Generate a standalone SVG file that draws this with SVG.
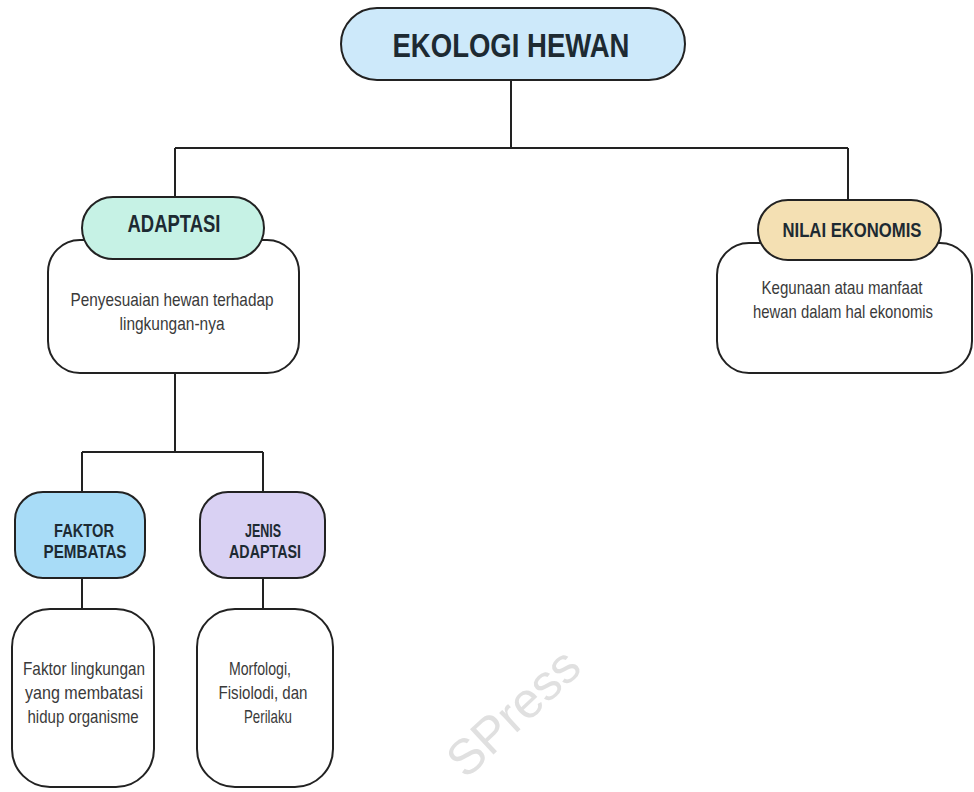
<svg xmlns="http://www.w3.org/2000/svg" width="974" height="792" viewBox="0 0 974 792">
  <style>
    .box { stroke: #222; stroke-width: 2; }
    .desc { fill: #ffffff; stroke: #222; stroke-width: 2; }
    .link { fill: none; stroke: #222; stroke-width: 2; }
    .title { font-family: "Liberation Sans", Arial, sans-serif; font-weight: bold; fill: #1d2a32; text-anchor: middle; }
    .body { font-family: "Liberation Sans", Arial, sans-serif; font-size: 19px; fill: #3a3a3a; text-anchor: middle; }
    .mark { font-family: "Liberation Sans", Arial, sans-serif; fill: #e0e0e0; }
  </style>
  <rect width="974" height="792" fill="#ffffff"/>

  <!-- connectors -->
  <g id="connectors">
    <path class="link" d="M511,80 V148 M175,148 H848 M175,148 V197 M848,148 V200"/>
    <path class="link" d="M175,373 V452 M82,452 H263 M82,452 V492 M263,452 V492"/>
    <path class="link" d="M82,578 V609 M263,578 V609"/>
  </g>

  <!-- root -->
  <g id="ekologi-hewan">
    <rect class="box" x="341" y="8" width="344" height="72" rx="36" fill="#cde9fa"/>
    <text class="title" x="511" y="57" font-size="33" textLength="237" lengthAdjust="spacingAndGlyphs">EKOLOGI HEWAN</text>
  </g>

  <!-- adaptation branch -->
  <g id="adaptasi">
    <rect class="desc" x="48" y="240" width="251" height="133" rx="32"/>
    <rect class="box" x="82" y="197" width="182" height="62" rx="31" fill="#c6f2e5"/>
    <text class="title" x="174" y="232" font-size="23" textLength="93" lengthAdjust="spacingAndGlyphs">ADAPTASI</text>
    <text class="body" x="172" y="306" textLength="203" lengthAdjust="spacingAndGlyphs">Penyesuaian hewan terhadap</text>
    <text class="body" x="172" y="330" textLength="105" lengthAdjust="spacingAndGlyphs">lingkungan-nya</text>
  </g>

  <!-- economic value branch -->
  <g id="nilai-ekonomis">
    <rect class="desc" x="717" y="243" width="255" height="130" rx="32"/>
    <rect class="box" x="758" y="200" width="183" height="60" rx="30" fill="#f4e0b3"/>
    <text class="title" x="852" y="237" font-size="21" textLength="139" lengthAdjust="spacingAndGlyphs">NILAI EKONOMIS</text>
    <text class="body" x="842" y="294" font-size="18" textLength="161" lengthAdjust="spacingAndGlyphs">Kegunaan atau manfaat</text>
    <text class="body" x="843" y="318" font-size="18" textLength="180" lengthAdjust="spacingAndGlyphs">hewan dalam hal ekonomis</text>
  </g>

  <!-- limiting factors -->
  <g id="faktor-pembatas">
    <rect class="box" x="15" y="492" width="130" height="86" rx="28" fill="#a8dcf7"/>
    <text class="title" x="84" y="537" font-size="19" textLength="60" lengthAdjust="spacingAndGlyphs">FAKTOR</text>
    <text class="title" x="85" y="558" font-size="19" textLength="83" lengthAdjust="spacingAndGlyphs">PEMBATAS</text>
  </g>
  <g id="faktor-desc">
    <rect class="desc" x="12" y="609" width="142" height="178" rx="38"/>
    <text class="body" x="84" y="675" textLength="122" lengthAdjust="spacingAndGlyphs">Faktor lingkungan</text>
    <text class="body" x="84" y="699" textLength="118" lengthAdjust="spacingAndGlyphs">yang membatasi</text>
    <text class="body" x="83" y="723" textLength="111" lengthAdjust="spacingAndGlyphs">hidup organisme</text>
  </g>

  <!-- adaptation types -->
  <g id="jenis-adaptasi">
    <rect class="box" x="200" y="492" width="125" height="86" rx="28" fill="#d9d1f3"/>
    <text class="title" x="263" y="537" font-size="19" textLength="36" lengthAdjust="spacingAndGlyphs">JENIS</text>
    <text class="title" x="265" y="558" font-size="19" textLength="72" lengthAdjust="spacingAndGlyphs">ADAPTASI</text>
  </g>
  <g id="jenis-desc">
    <rect class="desc" x="197" y="609" width="136" height="178" rx="38"/>
    <text class="body" x="260" y="675" textLength="62" lengthAdjust="spacingAndGlyphs">Morfologi,</text>
    <text class="body" x="263" y="699" textLength="89" lengthAdjust="spacingAndGlyphs">Fisiolodi, dan</text>
    <text class="body" x="268" y="723" textLength="48" lengthAdjust="spacingAndGlyphs">Perilaku</text>
  </g>

  <!-- watermark -->
  <text class="mark" x="0" y="0" font-size="50" transform="translate(466,780) rotate(-43)">SPress</text>
</svg>
